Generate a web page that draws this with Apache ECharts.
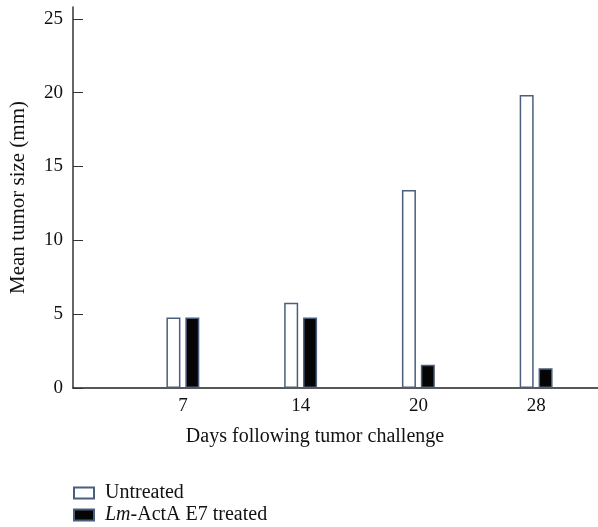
<!DOCTYPE html>
<html>
<head>
<meta charset="utf-8">
<script src="https://cdn.jsdelivr.net/npm/echarts@6/dist/echarts.min.js"></script>
<style>html,body{margin:0;padding:0;background:#fff;}#c{width:598px;height:527px;}</style>
</head>
<body>
<div id="c"></div>
<script>
var days = ['7', '14', '20', '28'];
var untreated = [4.77, 5.78, 13.4, 19.84];
var treated = [4.77, 4.77, 1.57, 1.34];
var yTicks = [0, 5, 10, 15, 20, 25];
var seriesNames = ['Untreated', 'Lm-ActA E7 treated'];

var FONT = 'Liberation Serif';
var FS = 19;
var chart = echarts.init(document.getElementById('c'), null, {renderer: 'canvas'});
var edge = '#4a5f7c';
chart.setOption({
  animation: false,
  backgroundColor: '#fff',
  textStyle: {fontFamily: FONT},
  grid: [
    {left: 73, right: 0, top: 7, bottom: 139},
    {left: 124, right: 3, top: 7, bottom: 139}
  ],
  xAxis: [
    {gridIndex: 0, type: 'value', min: 0, max: 1,
     axisLine: {show: true, lineStyle: {color: '#222', width: 1.5}},
     axisTick: {show: false}, axisLabel: {show: false}, splitLine: {show: false}},
    {gridIndex: 1, type: 'category', data: days,
     axisLine: {show: false}, axisTick: {show: false},
     axisLabel: {fontSize: FS, color: '#111', margin: 9, fontFamily: FONT},
     splitLine: {show: false}}
  ],
  yAxis: [
    {gridIndex: 0, type: 'value', min: 0, max: 25.8,
     name: 'Mean tumor size (mm)', nameLocation: 'middle', nameGap: 44,
     nameTextStyle: {fontSize: 21, color: '#111', fontFamily: FONT},
     axisLine: {show: true, lineStyle: {color: '#333', width: 1.5}},
     axisTick: {show: true, inside: true, length: 10, customValues: yTicks, lineStyle: {color: '#333', width: 1}},
     axisLabel: {customValues: yTicks, fontSize: FS, color: '#111', margin: 10, fontFamily: FONT},
     splitLine: {show: false}},
    {gridIndex: 1, type: 'value', min: 0, max: 25.8, show: false, splitLine: {show: false}}
  ],
  legend: {
    orient: 'vertical', left: 68, top: 478, height: 48, itemWidth: 20, itemHeight: 11, itemGap: 2,
    icon: 'rect',
    data: seriesNames,
    textStyle: {fontSize: 20, color: '#111', fontFamily: FONT, padding: [0, 0, 0, 6],
      rich: {i: {fontStyle: 'italic', fontSize: 20, color: '#111', fontFamily: FONT}}},
    formatter: function (n) {
      if (n.indexOf('Lm') === 0) return '{i|Lm}' + n.slice(2);
      return n;
    }
  },
  graphic: [{
    type: 'text', style: {
      text: 'Days following tumor challenge', x: 315, y: 437,
      align: 'center', verticalAlign: 'middle',
      font: '20px "Liberation Serif"', fill: '#111'
    }
  }],
  series: [
    {name: seriesNames[0], type: 'bar', xAxisIndex: 1, yAxisIndex: 1, data: untreated,
     barWidth: 14, barGap: '35%',
     itemStyle: {color: '#fff', borderColor: edge, borderWidth: 1.5}},
    {name: seriesNames[1], type: 'bar', xAxisIndex: 1, yAxisIndex: 1, data: treated,
     barWidth: 14, barGap: '35%',
     itemStyle: {color: '#050505', borderColor: edge, borderWidth: 1.5}}
  ]
});
</script>
</body>
</html>
